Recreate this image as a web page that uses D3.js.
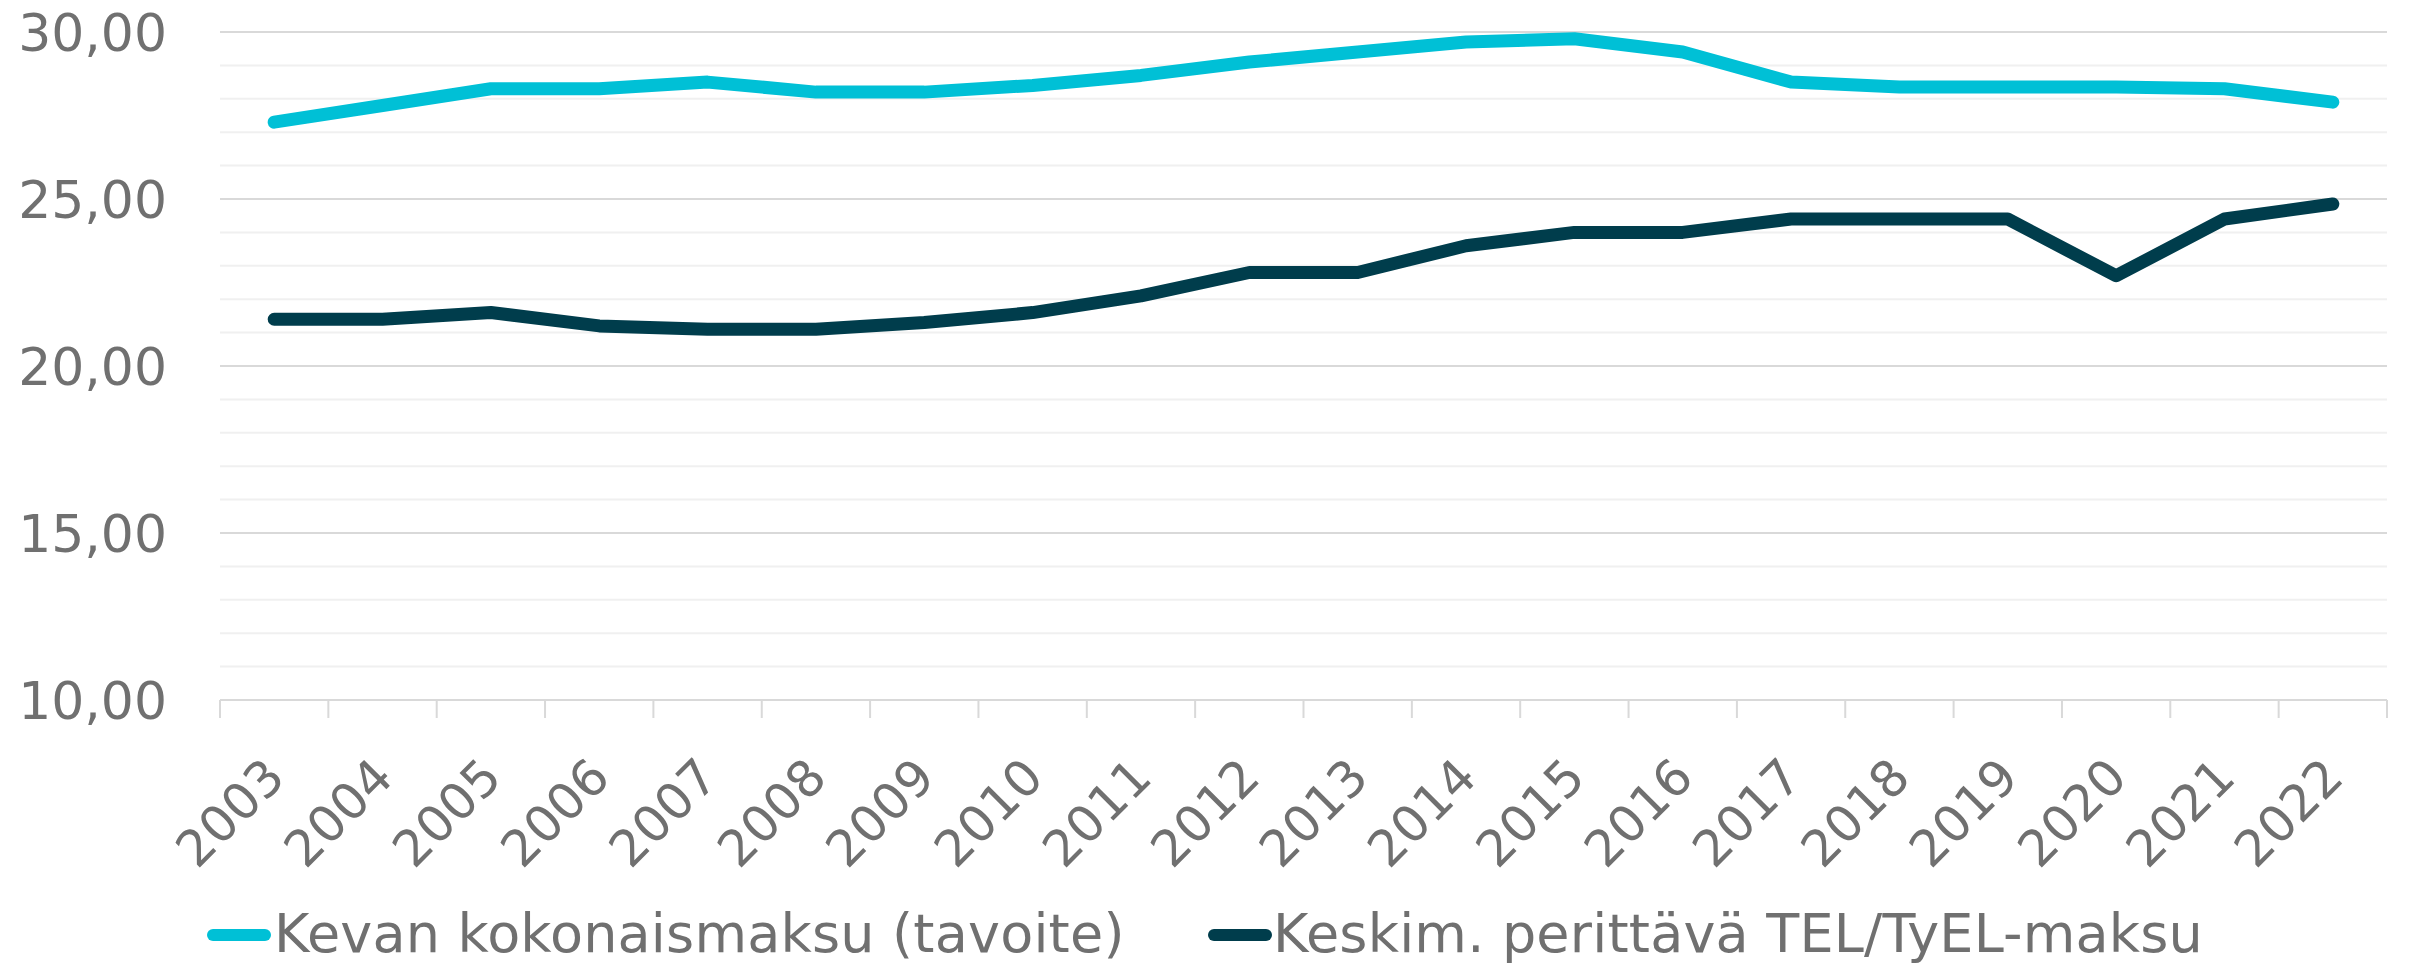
<!DOCTYPE html>
<html>
<head>
<meta charset="utf-8">
<script src="https://cdn.jsdelivr.net/npm/d3@7"></script>
<style>
  html, body { margin: 0; padding: 0; background: #ffffff; }
  svg { display: block; }
  text { font-family: "DejaVu Sans", Verdana, sans-serif; fill: #707070; }
</style>
</head>
<body>
<svg id="chart" width="2410" height="964"></svg>
<script>
// Years on the category axis
const years = ["2003","2004","2005","2006","2007","2008","2009","2010","2011","2012",
               "2013","2014","2015","2016","2017","2018","2019","2020","2021","2022"];

// Series values (%)
const kevanTotal = [27.3, 27.8, 28.3, 28.3, 28.5, 28.2, 28.2, 28.4, 28.7, 29.1,
                    29.4, 29.7, 29.8, 29.4, 28.5, 28.35, 28.35, 28.35, 28.3, 27.9];
const telTyelAvg = [21.4, 21.4, 21.6, 21.2, 21.1, 21.1, 21.3, 21.6, 22.1, 22.8,
                    22.8, 23.6, 24.0, 24.0, 24.4, 24.4, 24.4, 22.7, 24.4, 24.85];

const seriesNames = ["Kevan kokonaismaksu (tavoite)", "Keskim. perittävä TEL/TyEL-maksu"];
const seriesColors = ["#00C0D6", "#003D4C"];

// Value axis
const yMajorTicks = [10, 15, 20, 25, 30];
const yMinorTicks = d3.range(10, 31, 1);

const svg = d3.select("#chart");
const plot = { left: 220, right: 2387, top: 32, bottom: 700 };

const x = d3.scaleBand().domain(years).range([plot.left, plot.right]).padding(0);
const y = d3.scaleLinear().domain([10, 30]).range([plot.bottom, plot.top]);
const fi = d3.formatLocale({ decimal: ",", thousands: "\u00a0", grouping: [3], currency: ["", " €"] });
const fmt = fi.format(".2f");

// Minor gridlines
svg.append("g").selectAll("line")
  .data(yMinorTicks.filter(v => !yMajorTicks.includes(v)))
  .join("line")
  .attr("x1", plot.left).attr("x2", plot.right)
  .attr("y1", d => y(d)).attr("y2", d => y(d))
  .attr("stroke", "#F0F0F0").attr("stroke-width", 2);

// Major gridlines
svg.append("g").selectAll("line")
  .data(yMajorTicks.filter(v => v !== 10))
  .join("line")
  .attr("x1", plot.left).attr("x2", plot.right)
  .attr("y1", d => y(d)).attr("y2", d => y(d))
  .attr("stroke", "#D9D9D9").attr("stroke-width", 2);

// Y axis labels
const yAxis = d3.axisLeft(y).tickValues(yMajorTicks).tickFormat(fmt).tickSize(0).tickPadding(53);
const gy = svg.append("g").attr("transform", `translate(${plot.left},0)`).call(yAxis);
gy.select(".domain").remove();
gy.selectAll("text")
  .attr("font-size", 52)
  .attr("font-family", "DejaVu Sans, Verdana, sans-serif")
  .attr("fill", "#707070")
  .attr("dy", "0.36em");

// X axis: baseline, boundary ticks and rotated labels
const gx = svg.append("g");
gx.append("line")
  .attr("x1", plot.left).attr("x2", plot.right)
  .attr("y1", plot.bottom).attr("y2", plot.bottom)
  .attr("stroke", "#D9D9D9").attr("stroke-width", 2);
const boundaries = years.map(d => x(d)).concat([x(years[years.length - 1]) + x.bandwidth()]);
gx.selectAll("line.tick")
  .data(boundaries)
  .join("line")
  .attr("class", "tick")
  .attr("x1", d => d).attr("x2", d => d)
  .attr("y1", plot.bottom).attr("y2", plot.bottom + 18)
  .attr("stroke", "#D9D9D9").attr("stroke-width", 2);
gx.selectAll("text")
  .data(years)
  .join("text")
  .attr("transform", d => `translate(${x(d) + x.bandwidth() / 2 + 13},${plot.bottom + 80}) rotate(-45)`)
  .attr("text-anchor", "end")
  .attr("font-size", 50)
  .text(d => d);

// Lines
const line = d3.line()
  .x((d, i) => x(years[i]) + x.bandwidth() / 2)
  .y(d => y(d));

[kevanTotal, telTyelAvg].forEach((vals, k) => {
  svg.append("path")
    .datum(vals)
    .attr("d", line)
    .attr("fill", "none")
    .attr("stroke", seriesColors[k])
    .attr("stroke-width", 13)
    .attr("stroke-linejoin", "round")
    .attr("stroke-linecap", "round");
});

// Legend
const legendItems = [
  { x: 213, name: seriesNames[0], color: seriesColors[0], gap: 61 },
  { x: 1214, name: seriesNames[1], color: seriesColors[1], gap: 59 }
];
const lg = svg.append("g");
legendItems.forEach(it => {
  lg.append("line")
    .attr("x1", it.x).attr("x2", it.x + 52)
    .attr("y1", 935).attr("y2", 935)
    .attr("stroke", it.color).attr("stroke-width", 12)
    .attr("stroke-linecap", "round");
  lg.append("text")
    .attr("x", it.x + it.gap).attr("y", 952)
    .attr("font-size", 54)
    .attr("letter-spacing", 0.2)
    .text(it.name);
});
</script>
</body>
</html>
